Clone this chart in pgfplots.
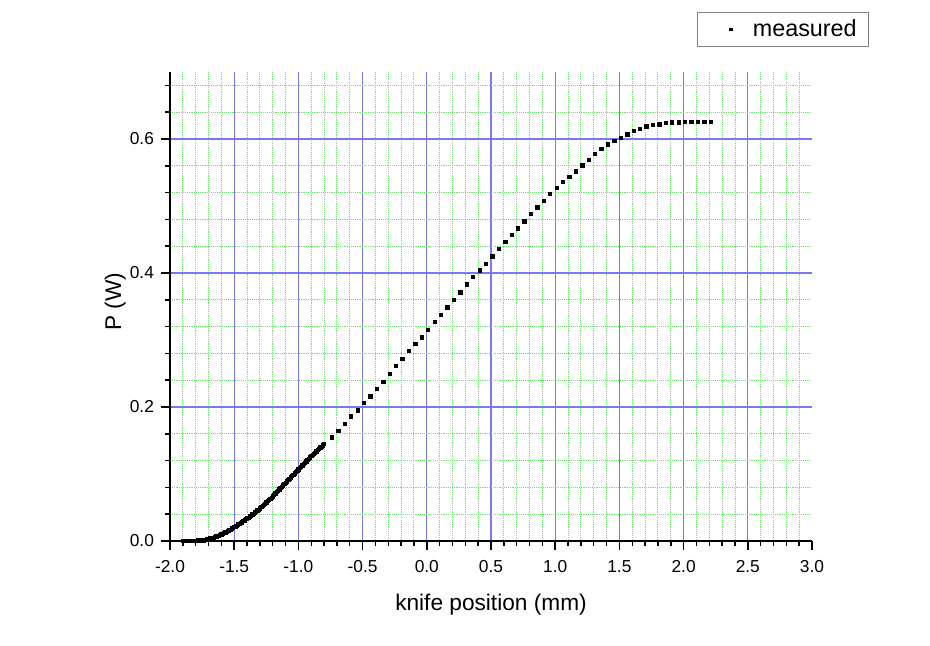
\documentclass[border=0pt]{standalone}
\usepackage{fontspec}
\setmainfont{Liberation Sans}
\usepackage{pgfplots}
\pgfplotsset{compat=1.18}

\definecolor{majgrid}{RGB}{120,120,245}
\definecolor{mingrid}{RGB}{110,230,110}

\begin{document}
\begin{tikzpicture}
\useasboundingbox (-127.5pt,-78pt) rectangle (570pt,405.75pt);
\begin{axis}[
  at={(0,0)}, anchor=south west,
  scale only axis, width=481.5pt, height=351.75pt,
  xmin=-2, xmax=3, ymin=0, ymax=0.7,
  axis lines*=left,
  axis line style={line width=1.3pt},
  tick align=outside,
  major tick length=7pt, minor tick length=4pt,
  tick style={black, line width=1.1pt},
  xtick={-2,-1.5,-1,-0.5,0,0.5,1,1.5,2,2.5}, extra x ticks={3}, extra x tick style={grid=none},
  minor xtick={-1.9,-1.8,-1.7,-1.6,-1.4,-1.3,-1.2,-1.1,-0.9,-0.8,-0.7,-0.6,
    -0.4,-0.3,-0.2,-0.1,0.1,0.2,0.3,0.4,0.6,0.7,0.8,0.9,1.1,1.2,1.3,1.4,
    1.6,1.7,1.8,1.9,2.1,2.2,2.3,2.4,2.6,2.7,2.8,2.9},
  ytick={0,0.2,0.4,0.6},
  minor ytick={0.04,0.08,0.12,0.16,0.24,0.28,0.32,0.36,0.44,0.48,0.52,0.56,0.64,0.68},
  grid=both,
  major grid style={majgrid, line width=0.9pt},
  minor grid style={mingrid, densely dotted, line width=0.7pt},
  ticklabel style={font=\fontsize{13}{15}\selectfont},
  xticklabel style={yshift=-4pt},
  yticklabel style={xshift=-1.5pt},
  xlabel={knife position (mm)},
  ylabel={P (W)},
  label style={font=\fontsize{17}{19}\selectfont},
  xlabel style={at={(axis description cs:0.5,-0.1365)}, anchor=center},
  ylabel style={at={(axis description cs:-0.0852,0.51)}, anchor=center, rotate=0},
  legend style={at={(axis description cs:1.0888,1.128)}, anchor=north east,
    draw=gray, line width=0.5pt, font=\fontsize{17.5}{19}\selectfont,
    inner xsep=7pt, inner ysep=3.5pt},
  /pgf/number format/.cd, fixed, fixed zerofill, precision=1, assume math mode=true,
]
\addplot[only marks, mark=square*, mark size=1.25pt, black,
  legend image code/.code={\fill[black] (0.65cm-0.9pt,-0.9pt) rectangle (0.65cm+0.9pt,0.9pt); \path[draw=none] (0cm,0) -- (1.16cm,0);}] coordinates {
(-1.90,0.000) (-1.89,0.000) (-1.88,0.000) (-1.87,0.000) (-1.86,0.000)
(-1.85,0.000) (-1.84,0.000) (-1.83,0.000) (-1.82,0.000) (-1.81,0.000)
(-1.80,0.000) (-1.79,0.000) (-1.78,0.001) (-1.77,0.001) (-1.76,0.001)
(-1.75,0.001) (-1.74,0.001) (-1.73,0.002) (-1.72,0.002) (-1.71,0.003)
(-1.70,0.003) (-1.69,0.004) (-1.68,0.004) (-1.67,0.005) (-1.66,0.005)
(-1.65,0.006) (-1.64,0.007) (-1.63,0.008) (-1.62,0.008) (-1.61,0.009)
(-1.60,0.010) (-1.59,0.011) (-1.58,0.012) (-1.57,0.013) (-1.56,0.014)
(-1.55,0.015) (-1.54,0.016) (-1.53,0.017) (-1.52,0.019) (-1.51,0.020)
(-1.50,0.021) (-1.49,0.022) (-1.48,0.023) (-1.47,0.025) (-1.46,0.026)
(-1.45,0.027) (-1.44,0.028) (-1.43,0.030) (-1.42,0.031) (-1.41,0.033)
(-1.40,0.034) (-1.39,0.035) (-1.38,0.037) (-1.37,0.038) (-1.36,0.040)
(-1.35,0.041) (-1.34,0.043) (-1.33,0.044) (-1.32,0.046) (-1.31,0.047)
(-1.30,0.049) (-1.29,0.051) (-1.28,0.053) (-1.27,0.054) (-1.26,0.056)
(-1.25,0.058) (-1.24,0.060) (-1.23,0.062) (-1.22,0.063) (-1.21,0.065)
(-1.20,0.067) (-1.19,0.069) (-1.18,0.071) (-1.17,0.073) (-1.16,0.075)
(-1.15,0.077) (-1.14,0.079) (-1.13,0.081) (-1.12,0.083) (-1.11,0.085)
(-1.10,0.087) (-1.09,0.089) (-1.08,0.091) (-1.07,0.093) (-1.06,0.095)
(-1.05,0.097) (-1.04,0.099) (-1.03,0.101) (-1.02,0.103) (-1.01,0.105)
(-1.00,0.107) (-0.99,0.109) (-0.98,0.111) (-0.97,0.113) (-0.96,0.115)
(-0.95,0.117) (-0.94,0.119) (-0.93,0.121) (-0.92,0.123) (-0.91,0.125)
(-0.90,0.127) (-0.89,0.129) (-0.88,0.130) (-0.87,0.132) (-0.86,0.134)
(-0.85,0.136) (-0.84,0.138) (-0.83,0.140) (-0.82,0.141) (-0.81,0.143)
(-0.80,0.145)
(-0.74,0.155) (-0.69,0.165) (-0.64,0.175) (-0.59,0.186) (-0.54,0.195)
(-0.49,0.206) (-0.44,0.216) (-0.39,0.227) (-0.34,0.238) (-0.29,0.250)
(-0.24,0.262) (-0.19,0.272) (-0.14,0.284) (-0.09,0.294) (-0.04,0.304)
(0.01,0.315) (0.06,0.327) (0.11,0.338) (0.16,0.349) (0.21,0.360)
(0.26,0.371) (0.31,0.383) (0.36,0.394) (0.41,0.404) (0.46,0.414)
(0.51,0.425) (0.56,0.436) (0.61,0.447) (0.66,0.457) (0.71,0.467)
(0.76,0.477) (0.81,0.488) (0.86,0.498) (0.91,0.508) (0.96,0.518)
(1.01,0.527) (1.06,0.536) (1.11,0.544) (1.16,0.552) (1.21,0.561)
(1.26,0.569) (1.31,0.578) (1.36,0.585) (1.41,0.592) (1.46,0.597)
(1.51,0.602) (1.56,0.607) (1.61,0.612) (1.66,0.615) (1.71,0.619)
(1.76,0.621) (1.81,0.622) (1.86,0.624) (1.91,0.625) (1.96,0.625)
(2.01,0.626) (2.06,0.626) (2.11,0.626) (2.16,0.626) (2.21,0.626)
};
\addlegendentry{measured}
\end{axis}
\end{tikzpicture}
\end{document}
